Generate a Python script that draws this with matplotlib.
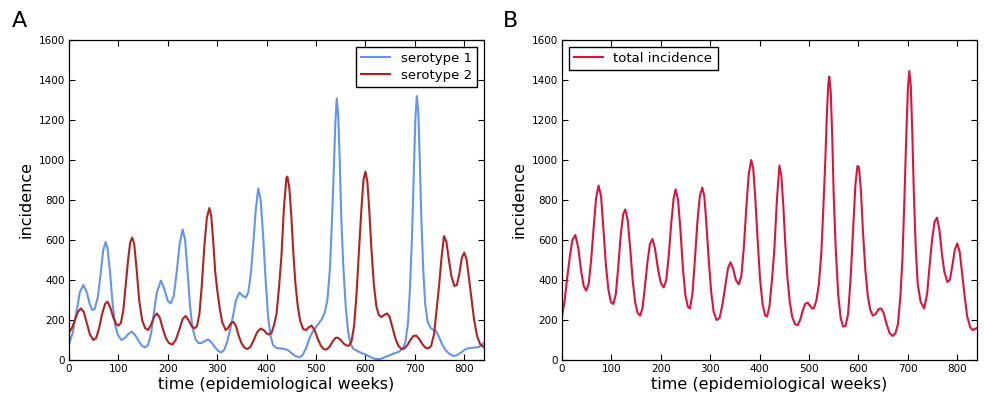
import matplotlib
matplotlib.use("Agg")
import matplotlib.pyplot as plt

# serotype 1
sero1_weeks = [0, 8, 15, 22, 29, 36, 42, 47, 52, 58, 64, 69, 74, 78, 83, 88, 93, 99, 106, 113,
               120, 127, 134, 141, 148, 154, 160, 166, 172, 178, 186, 193, 200, 206, 212, 218, 224, 230, 235, 240,
               245, 250, 256, 262, 268, 275, 281, 288, 295, 302, 308, 314, 320, 326, 332, 338, 345, 352, 358, 363,
               368, 373, 378, 383, 388, 393, 398, 403, 408, 413, 420, 428, 436, 443, 450, 458, 466, 473, 480, 487,
               494, 500, 506, 512, 518, 523, 528, 532, 536, 539, 542, 545, 548, 551, 555, 560, 565, 570, 576, 584,
               592, 600, 610, 620, 630, 640, 650, 660, 668, 675, 681, 686, 690, 694, 698, 701, 704, 707, 710, 713,
               717, 721, 726, 732, 738, 743, 749, 755, 762, 770, 778, 786, 795, 803, 812, 822, 830, 840]
sero1_cases = [80, 140, 240, 340, 375, 340, 280, 250, 255, 310, 430, 545, 590, 560, 440, 290, 180, 125, 100, 110,
               130, 142, 125, 95, 70, 63, 75, 130, 240, 340, 397, 355, 295, 283, 320, 440, 580, 653, 600, 440,
               270, 160, 105, 85, 85, 95, 103, 90, 65, 45, 38, 50, 90, 150, 220, 300, 337, 320, 312, 340,
               430, 580, 750, 858, 800, 620, 400, 217, 120, 75, 60, 58, 55, 50, 35, 20, 13, 25, 60, 110,
               145, 165, 185, 205, 240, 300, 450, 680, 950, 1180, 1308, 1220, 1000, 720, 480, 270, 140, 80, 55, 45,
               35, 28, 15, 5, 5, 15, 25, 35, 42, 55, 90, 180, 350, 600, 950, 1200, 1320, 1240, 1000, 720,
               450, 280, 190, 160, 150, 145, 115, 80, 50, 30, 20, 25, 40, 55, 60, 63, 65, 85]

# serotype 2
sero2_weeks = [0, 6, 12, 18, 24, 30, 36, 42, 49, 55, 61, 67, 73, 78, 84, 90, 96, 100, 105, 110,
               115, 120, 124, 128, 132, 137, 142, 148, 154, 160, 166, 172, 178, 184, 190, 196, 202, 209, 216, 223,
               230, 236, 242, 248, 254, 259, 264, 269, 274, 279, 284, 288, 292, 296, 300, 305, 310, 317, 322, 328,
               333, 338, 343, 349, 355, 361, 367, 374, 381, 388, 394, 400, 405, 410, 415, 420, 425, 430, 435, 440,
               442, 446, 450, 454, 458, 463, 468, 474, 480, 486, 491, 497, 503, 509, 515, 521, 527, 533, 539, 544,
               550, 556, 562, 567, 572, 577, 582, 587, 592, 596, 600, 604, 608, 612, 617, 622, 627, 632, 638, 644,
               649, 655, 661, 667, 673, 679, 685, 691, 697, 703, 709, 715, 721, 727, 733, 739, 744, 749, 754, 759,
               764, 769, 774, 780, 785, 790, 795, 800, 805, 810, 815, 820, 826, 832, 840]
sero2_cases = [137, 160, 200, 240, 258, 240, 185, 130, 100, 110, 160, 230, 280, 292, 260, 210, 178, 172, 185, 250,
               380, 510, 590, 612, 580, 450, 300, 200, 160, 150, 175, 215, 233, 210, 155, 110, 85, 77, 100, 150,
               205, 220, 200, 170, 158, 170, 230, 380, 570, 710, 760, 720, 590, 440, 350, 260, 190, 150, 160, 185,
               190, 170, 125, 85, 62, 55, 65, 100, 140, 157, 150, 133, 128, 135, 175, 230, 360, 520, 760, 910,
               917, 860, 720, 540, 390, 270, 195, 155, 150, 165, 172, 150, 110, 75, 55, 52, 65, 90, 110, 112,
               100, 82, 72, 72, 95, 170, 330, 550, 760, 900, 942, 890, 740, 560, 380, 270, 225, 215, 225, 233,
               215, 160, 105, 70, 55, 58, 75, 100, 120, 122, 105, 80, 62, 58, 70, 130, 250, 370, 510, 620,
               590, 500, 420, 370, 375, 430, 510, 537, 500, 400, 300, 200, 120, 80, 63]

# total incidence
total_weeks = [0, 5, 10, 16, 21, 27, 33, 39, 44, 49, 54, 59, 64, 69, 74, 79, 84, 89, 94, 99,
               104, 109, 114, 119, 124, 128, 133, 138, 143, 148, 153, 158, 163, 168, 173, 178, 183, 188, 194, 200,
               206, 211, 216, 221, 226, 230, 235, 240, 245, 250, 255, 259, 264, 269, 274, 279, 284, 288, 292, 297,
               302, 307, 313, 319, 325, 331, 336, 341, 346, 352, 358, 363, 368, 373, 378, 383, 387, 391, 396, 401,
               406, 411, 415, 420, 425, 430, 435, 440, 444, 448, 452, 456, 461, 466, 472, 477, 482, 487, 492, 497,
               502, 506, 510, 515, 520, 525, 529, 533, 536, 539, 541, 544, 547, 550, 554, 559, 564, 569, 574, 579,
               584, 589, 594, 598, 601, 605, 609, 614, 619, 624, 629, 635, 641, 646, 651, 657, 663, 669, 675, 680,
               685, 689, 693, 697, 700, 703, 706, 709, 712, 716, 720, 726, 733, 739, 744, 749, 754, 759, 764, 769,
               774, 780, 785, 790, 795, 800, 805, 810, 815, 820, 826, 831, 840]
total_cases = [220, 290, 400, 520, 600, 625, 560, 440, 370, 347, 380, 500, 660, 810, 872, 820, 650, 470, 350, 290,
               280, 330, 470, 630, 730, 753, 700, 560, 400, 290, 235, 222, 260, 370, 490, 580, 605, 560, 460, 385,
               363, 400, 520, 680, 810, 853, 800, 640, 450, 320, 265, 258, 330, 500, 690, 820, 862, 820, 690, 500,
               340, 240, 200, 210, 280, 380, 460, 488, 460, 400, 378, 420, 560, 760, 930, 1000, 960, 820, 600, 400,
               280, 225, 217, 270, 400, 560, 800, 972, 920, 770, 580, 420, 290, 215, 178, 175, 200, 245, 280, 287,
               272, 258, 260, 300, 380, 540, 760, 1000, 1220, 1380, 1417, 1340, 1110, 820, 560, 330, 210, 167, 170, 230,
               400, 640, 880, 970, 965, 850, 650, 450, 320, 250, 222, 230, 255, 258, 235, 180, 135, 120, 135, 180,
               320, 500, 800, 1130, 1350, 1445, 1370, 1140, 850, 560, 380, 290, 258, 330, 470, 600, 690, 712, 650, 530,
               440, 390, 400, 470, 550, 583, 540, 430, 320, 220, 165, 150, 160]

panel_letters = ["A", "B"]
x_ticks = list(range(0, 801, 100))
y_ticks = list(range(0, 1601, 200))


def style_axes(ax):
    ax.set_xlim(0, 840)
    ax.set_ylim(0, 1600)
    ax.set_xticks(x_ticks)
    ax.set_yticks(y_ticks)
    ax.tick_params(direction="in", top=True, right=True, length=4, width=0.8,
                   labelsize=7.5, pad=3)
    ax.set_xlabel("time (epidemiological weeks)", fontsize=11.5, labelpad=2)
    ax.set_ylabel("incidence", fontsize=11.5, labelpad=4)
    for sp in ax.spines.values():
        sp.set_color("black")
        sp.set_linewidth(0.9)


def main():
    fig = plt.figure(figsize=(9.84, 3.97), dpi=100)
    ax1 = fig.add_axes([69 / 984, 37 / 397, 415 / 984, 320 / 397])
    ax2 = fig.add_axes([562 / 984, 37 / 397, 415 / 984, 320 / 397])

    ax1.plot(sero1_weeks, sero1_cases, color="cornflowerblue", lw=1.5, label="serotype 1")
    ax1.plot(sero2_weeks, sero2_cases, color="firebrick", lw=1.5, label="serotype 2")
    style_axes(ax1)
    leg = ax1.legend(loc="upper right", fontsize=9.5, fancybox=False, framealpha=1,
                     handlelength=2.2, borderpad=0.4, labelspacing=0.3, borderaxespad=0.5)
    leg.get_frame().set_edgecolor("black")

    ax2.plot(total_weeks, total_cases, color="crimson", lw=1.5, label="total incidence")
    style_axes(ax2)
    leg = ax2.legend(loc="upper left", fontsize=9.5, fancybox=False, framealpha=1,
                     handlelength=2.2, borderpad=0.4, borderaxespad=0.5)
    leg.get_frame().set_edgecolor("black")

    fig.text(12 / 984, 1 - 27 / 397, panel_letters[0], fontsize=16)
    fig.text(503 / 984, 1 - 27 / 397, panel_letters[1], fontsize=16)

    fig.savefig("out.png", dpi=100)
    plt.close(fig)


if __name__ == "__main__":
    main()
